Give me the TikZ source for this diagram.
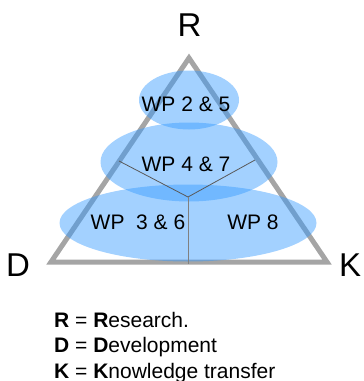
\documentclass[tikz,border=0pt]{standalone}
\usepackage{fontspec}
\setmainfont{Liberation Sans}
\usetikzlibrary{shapes.geometric}
\definecolor{wpblue}{RGB}{51,153,255}
\definecolor{trigray}{RGB}{165,165,165}
\tikzset{
  wp/.style={ellipse,fill=wpblue,fill opacity=0.45,inner sep=0pt},
  wptext/.style={font=\fontsize{21}{21}\selectfont,inner sep=0pt},
  corner/.style={font=\fontsize{33}{33}\selectfont,inner sep=0pt},
  legend/.style={font=\fontsize{21}{21}\selectfont,inner sep=0pt,anchor=base west}
}
\begin{document}
\begin{tikzpicture}[x=1pt,y=-1pt]
\useasboundingbox (0,0) rectangle (364,381);
\coordinate (r) at (189,58);
\coordinate (d) at (51,262);
\coordinate (k) at (327,262);
\draw[trigray,line width=5pt,line join=miter] (r) -- (d) -- (k) -- cycle;

\node[wp,minimum width=257pt,minimum height=77pt] (wpC) at (188,223) {};
\node[wp,minimum width=177pt,minimum height=79pt] (wpB) at (189,162) {};
\node[wp,minimum width=100pt,minimum height=59pt] (wpA) at (189,100) {};

\coordinate (y0) at (188,197);
\coordinate (y1) at (119,161);
\coordinate (y2) at (255,160);
\coordinate (y3) at (188,264);
\draw[black!65,line width=0.8pt] (y0) edge (y1);
\draw[black!65,line width=0.8pt] (y0) edge (y2);
\draw[black!50,line width=0.6pt] (y0) edge (y3);

\node[wptext] (t25) at (186,104.5) {WP 2 \& 5};
\node[wptext] (t47) at (186,164.5) {WP 4 \& 7};
\node[wptext] (t36) at (138,222.5) {WP\ \ 3 \& 6};
\node[wptext] (t8) at (253,222.5) {WP 8};

\node[corner] (R) at (189.5,25) {R};
\node[corner] (D) at (18,265) {D};
\node[corner,anchor=west] (K) at (339,265) {K};

\node[legend] (lr) at (54,327) {\textbf{R} = \textbf{R}esearch.};
\node[legend] (ld) at (54,352.5) {\textbf{D} = \textbf{D}evelopment};
\node[legend] (lk) at (54,378) {\textbf{K} = \textbf{K}nowledge transfer};
\end{tikzpicture}
\end{document}
